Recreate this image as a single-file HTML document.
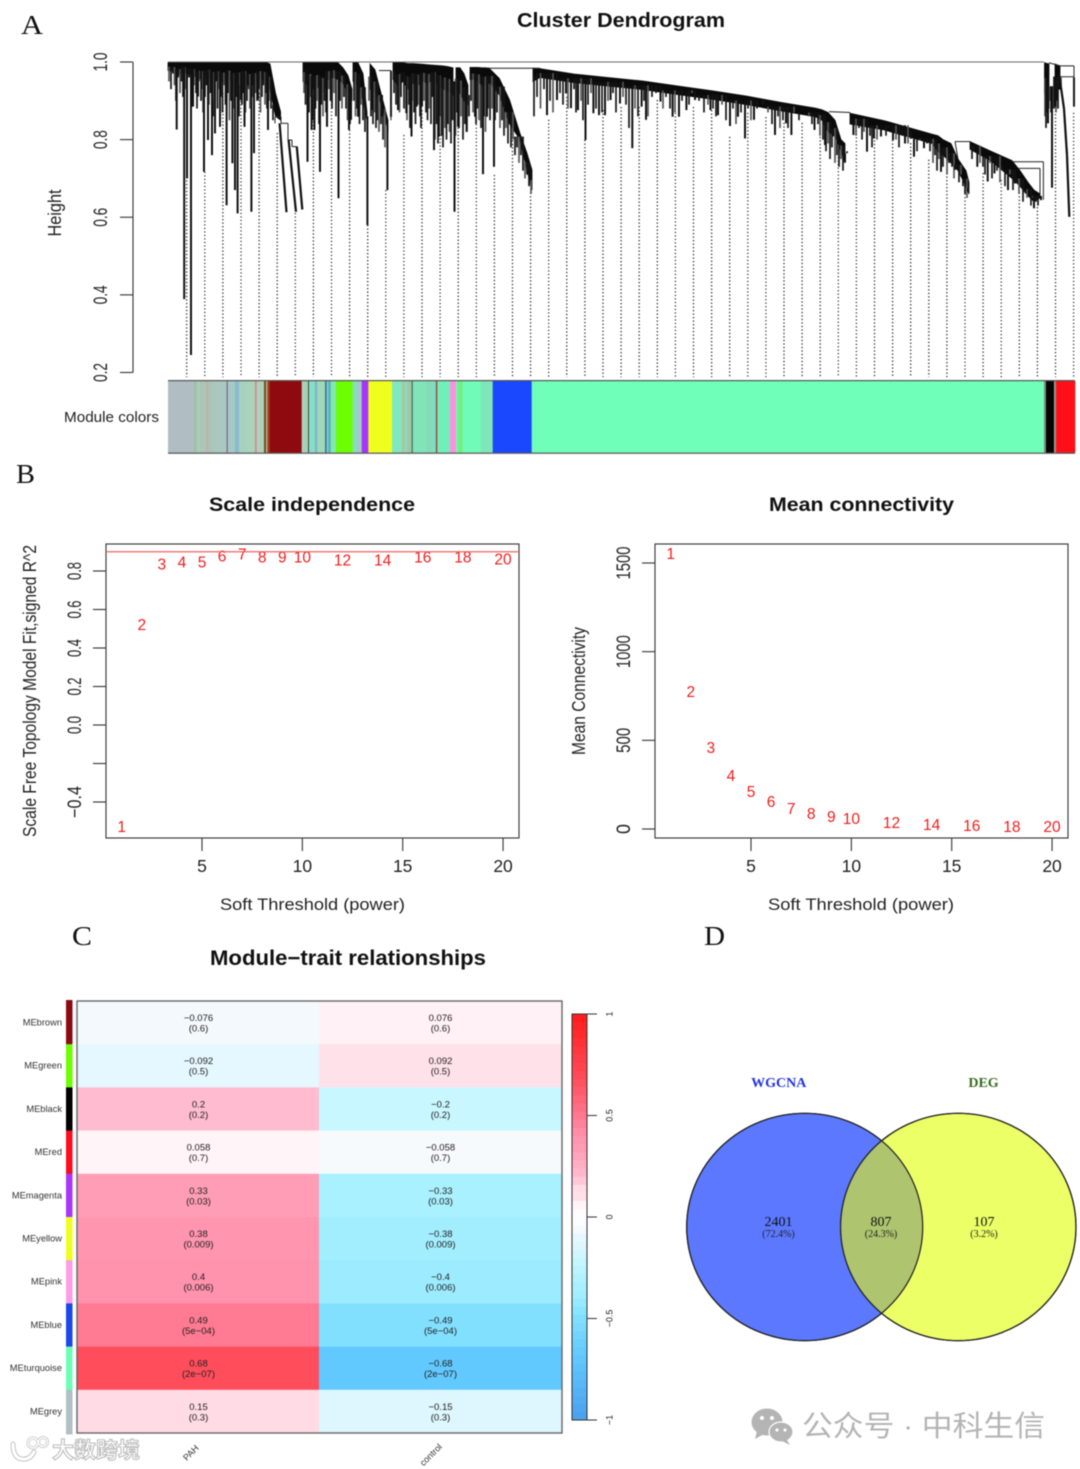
<!DOCTYPE html>
<html lang="en">
<head>
<meta charset="utf-8">
<title>WGCNA figure</title>
<style>
html,body{margin:0;padding:0;background:#fff;}
#figure{display:block;width:1080px;height:1469px;filter:blur(.5px);font-family:"Liberation Sans","Noto Sans CJK SC",sans-serif;}
.serif{font-family:"Liberation Serif","Noto Serif CJK SC",serif;}
</style>
</head>
<body>
<svg id="figure" xmlns="http://www.w3.org/2000/svg" width="1080" height="1469" viewBox="0 0 1080 1469">
  <rect x="0" y="0" width="1080" height="1469" fill="#fff"/>

  <g fill="#111" font-size="27" class="serif">
    <text x="21" y="34" textLength="22" lengthAdjust="spacingAndGlyphs">A</text>
    <text x="16" y="483" textLength="19" lengthAdjust="spacingAndGlyphs">B</text>
    <text x="72" y="945" textLength="20" lengthAdjust="spacingAndGlyphs">C</text>
    <text x="704" y="945" textLength="21" lengthAdjust="spacingAndGlyphs">D</text>
  </g>

  <g id="panel-a">
    <text x="517" y="27" font-size="20" font-weight="700" fill="#111" textLength="208" lengthAdjust="spacingAndGlyphs">Cluster Dendrogram</text>
    <text transform="rotate(-90 61 213)" x="61" y="213" text-anchor="middle" font-size="18" fill="#222" textLength="47" lengthAdjust="spacingAndGlyphs">Height</text>
    <text x="64" y="422" font-size="15" fill="#222" textLength="95" lengthAdjust="spacingAndGlyphs">Module colors</text>
    <g id="band"></g>
    <g id="guides"></g>
    <g id="dendro"></g>
    <g id="dendro-axis"></g>
  </g>

  <g id="panel-b1">
    <text x="209" y="511" font-size="19" font-weight="700" fill="#111" textLength="206" lengthAdjust="spacingAndGlyphs">Scale independence</text>
    <text x="220" y="910" font-size="17" fill="#222" textLength="185" lengthAdjust="spacingAndGlyphs">Soft Threshold (power)</text>
    <text transform="rotate(-90 36 691)" x="36" y="691" text-anchor="middle" font-size="18" fill="#222" textLength="292" lengthAdjust="spacingAndGlyphs">Scale Free Topology Model Fit,signed R^2</text>
  </g>

  <g id="panel-b2">
    <text x="769" y="511" font-size="19" font-weight="700" fill="#111" textLength="185" lengthAdjust="spacingAndGlyphs">Mean connectivity</text>
    <text x="768" y="910" font-size="17" fill="#222" textLength="186" lengthAdjust="spacingAndGlyphs">Soft Threshold (power)</text>
    <text transform="rotate(-90 585 691)" x="585" y="691" text-anchor="middle" font-size="18" fill="#222" textLength="128" lengthAdjust="spacingAndGlyphs">Mean Connectivity</text>
  </g>

  <g id="panel-c">
    <text x="210" y="965" font-size="21" font-weight="700" fill="#111" textLength="276" lengthAdjust="spacingAndGlyphs">Module−trait relationships</text>
    <g id="heat"></g>
    <g id="colorbar"></g>
  </g>

  <g id="panel-d">
    <defs>
      <clipPath id="venn-left-clip"><ellipse cx="804.7" cy="1227" rx="118" ry="113.7"/></clipPath>
    </defs>
    <ellipse cx="804.7" cy="1227" rx="118" ry="113.7" fill="#5b78ff" stroke="#222" stroke-width="1.2"/>
    <ellipse cx="958.3" cy="1227" rx="117.7" ry="113.7" fill="#ecff66" stroke="#222" stroke-width="1.2"/>
    <ellipse cx="958.3" cy="1227" rx="117.7" ry="113.7" fill="#aec46f" clip-path="url(#venn-left-clip)"/>
    <ellipse cx="804.7" cy="1227" rx="118" ry="113.7" fill="none" stroke="#222" stroke-width="1.2"/>
    <ellipse cx="958.3" cy="1227" rx="117.7" ry="113.7" fill="none" stroke="#222" stroke-width="1.2"/>
    <text x="778.7" y="1087" text-anchor="middle" font-size="14" font-weight="700" fill="#2233dd" class="serif">WGCNA</text>
    <text x="983.5" y="1087" text-anchor="middle" font-size="14" font-weight="700" fill="#3a6a20" class="serif">DEG</text>
    <g id="venn-text"></g>
  </g>

  <g>
    <g>
      <ellipse cx="767" cy="1422" rx="15.5" ry="13.5" fill="#b4b4b4"/>
      <path d="M757 1431 L755 1439 L764 1434 Z" fill="#b4b4b4"/>
      <ellipse cx="781" cy="1432" rx="12" ry="10" fill="#b4b4b4" stroke="#fff" stroke-width="1.2"/>
      <path d="M787 1440 L790 1445 L782 1441 Z" fill="#b4b4b4"/>
      <circle cx="762" cy="1418" r="2" fill="#fff"/><circle cx="772" cy="1418" r="2" fill="#fff"/>
      <circle cx="777" cy="1430" r="1.6" fill="#fff"/><circle cx="785" cy="1430" r="1.6" fill="#fff"/>
    </g>
    <text x="802" y="1436" font-size="29" fill="#b4b4b4" textLength="243" lengthAdjust="spacingAndGlyphs" style="font-family:'Liberation Sans','Noto Sans CJK SC',sans-serif">公众号 · 中科生信</text>
  </g>

  <g>
    <g fill="none" stroke-linecap="round">
      <path d="M13 1444 Q13 1458 22 1459 Q30 1460 34 1452" stroke="#c4c4c4" stroke-width="5"/>
      <path d="M13 1444 Q13 1458 22 1459 Q30 1460 34 1452" stroke="#fff" stroke-width="3"/>
      <circle cx="33" cy="1443" r="5" stroke="#c4c4c4" stroke-width="3"/>
      <circle cx="43" cy="1442" r="4.5" stroke="#c4c4c4" stroke-width="3"/>
      <circle cx="33" cy="1443" r="5" stroke="#fff" stroke-width="1.4"/>
      <circle cx="43" cy="1442" r="4.5" stroke="#fff" stroke-width="1.4"/>
    </g>
    <text x="52" y="1458" font-size="22" font-weight="700" fill="#fff" stroke="#bdbdbd" stroke-width="1.1" textLength="88" lengthAdjust="spacingAndGlyphs" style="font-family:'Liberation Sans','Noto Sans CJK SC',sans-serif">大数跨境</text>
  </g>
</svg>

<script>
/* ---------- Panel A data ---------- */
const heightTicks = [0.2, 0.4, 0.6, 0.8, 1.0];
const heightTickLabels = ['0.2', '0.4', '0.6', '0.8', '1.0'];

/* Heights at which each dotted leaf guide meets the tree, left to right. */
const guideTop = [.704,.717,.920,.936,.920,.817,.611,.910,.936,.825,.580,.670,.812,.876,.812,.876,.858,.709,.843,.663,
  .851,.910,.799,.876,.884,.884,.902,.869,.884,.876,.807,.869,.858,.843,.843,.825,.755,.833,.807,.799,.791,.748,.714,.670,.714,.696,.663,.626,.920,.869];

/* Solid parts of the tree in leaf-order units; null separates sections. */
const trunkLeaf = [0,5,10,15,20,25,30,35,40,45,50,55,60,65,70,75,80,85,90,95,97,null,
  97,102,107.5,112.6,null,
  135,140,145,150,155,160,165,170,175,180,184,null,
  185,190,195,199,null,
  202,207,212,216,220,null,
  225,230,235,240,245,250,255,260,265,270,275,280,285,null,
  288,292,296,300,null,
  302,306,310,314,318,321,null,
  321,331.3,341.6,352,359,364,null,
  365,372,406,440,475,510,544,579,613,647.5,654,660,667,673,677,null,
  682,716,764,770,775,783,790,798,801,null,
  802,823,844,852,860,866,872,null,
  876.5,881,null,
  887,892];
const trunkTop = [.998,.998,.998,.998,.998,.998,.998,.998,.998,.998,.998,.998,.998,.998,.998,.998,.998,.998,.998,.998,.998,null,
  1,.995,.92,.872,null,
  .998,.998,.998,.998,.998,.998,.998,.998,.985,.965,.93,null,
  .998,.998,.97,.87,null,
  .995,.98,.93,.89,.85,null,
  .998,.998,.998,.996,.996,.995,.994,.993,.992,.991,.990,.988,.985,null,
  .985,.985,.97,.94,null,
  .986,.986,.986,.985,.985,.984,null,
  .984,.958,.902,.816,.765,.722,null,
  .984,.983,.969,.96,.951,.938,.926,.912,.896,.881,.877,.87,.85,.80,.79,null,
  .868,.849,.814,.81,.80,.79,.75,.72,.69,null,
  .795,.77,.746,.72,.69,.67,.66,null,
  .998,.995,null,
  .995,.99];
const trunkBottom = [.978,.976,.965,.975,.968,.966,.958,.955,.962,.95,.955,.948,.958,.945,.948,.955,.94,.945,.955,.955,.95,null,
  .96,.93,.86,.85,null,
  .95,.94,.93,.935,.92,.955,.96,.955,.945,.92,.90,null,
  .95,.94,.90,.85,null,
  .93,.92,.90,.87,.82,null,
  .955,.94,.95,.93,.945,.94,.95,.945,.955,.94,.93,.925,.915,null,
  .93,.92,.90,.89,null,
  .955,.955,.95,.94,.94,.945,null,
  .95,.915,.84,.80,.72,.67,null,
  .95,.96,.947,.938,.929,.916,.904,.89,.874,.859,.85,.82,.81,.77,.74,null,
  .84,.825,.79,.77,.76,.74,.72,.68,.66,null,
  .775,.745,.70,.68,.655,.64,.65,null,
  .92,.88,null,
  .93,.93];

/* Individual hanging branches: leaf position and the height of the tip. */
const branchLeaf = [8.7,16.2,19,23,25,30,36,40,44,47,52,58.6,64.4,67,69.6,73,76.5,83.4,86,90,100,
  139.5,143.6,146.4,152,159,170.5,181,183,190,199.4,204,214,219.4,223,230,238.3,243.5,248.7,254,266,271,286.5,290,298.6,307,315,319,326,
  379,389,398,403,410,417.5,425.4,431,437,442.6,452,464.3,473.6,478,492.5,504.6,511,518.4,527,542.5,550,562,570,577,586,607,618,623.4,646.5,
  657,665,677,685.4,699,706,713,725,737,746,756,773,787,800,809.3,819.7,826.5,840,847,857.5,866,873,880,884,887.5,906];
const branchTip = [.826,.389,.700,.245,.885,.911,.717,.799,.760,.816,.833,.631,.739,.670,.610,.902,.833,.614,.765,.902,.825,
  .743,.825,.825,.717,.833,.649,.825,.851,.859,.580,.876,.859,.670,.859,.876,.868,.808,.885,.885,.773,.808,.614,.833,.820,.859,.711,.859,.730,
  .863,.902,.919,.881,.876,.799,.868,.863,.863,.902,.893,.778,.885,.851,.898,.859,.859,.876,.902,.876,.863,.835,.859,.803,.851,.812,.842,.812,.825,
  .786,.808,.741,.812,.769,.803,.808,.799,.790,.756,.778,.717,.722,.666,.730,.692,.713,.670,.687,.662,.623,.644,.842,.676,.885,.885];

/* Short twigs that give the tree its ragged underside. */
const twigLeaf = [1,3,5,6.5,8,10,12,13.5,15,17,
  21,24,26,28,29,31,33,34,35,37,
  38.5,41,42.5,45,46,48,49.5,51,53,54.5,
  56,57.5,60,61.5,63,65,66,68,71,72,
  74,75,77.5,79,81,82,84,85,87.5,89,
  91,92.5,94,95.5,97,98,99,101,103,105,
  136,137.5,141,142.5,144.5,147.5,149,151,153.5,155,
  156.5,158,161,162.5,164,166,168,172,174,176,
  178,179.5,182,186,187.5,189,191.5,193,195,197,
  201,203,205,206.5,208,209.5,211,213,215,217,
  226,228,231.5,233,236,239,241,242,244,246,
  247.5,250,252,253,256,258,259.5,261,263,264.5,
  267,268.5,270,272,273.5,275,277,278.5,280,281.5,
  283,284.5,287.5,289,291,293,295,297,299,301,
  303,305,308,309.5,311,313,316,317.5,320,322,
  324,327,329,332,334,336,338,340,343,345,
  347,349,351,353,355,357,359,361,363,366,
  369,372.5,376,382,385,392,395,400,406,408,
  413,415,420,423,428,434,440,445,448,455,
  458,461,467,470,476,480,484,488,495,498,
  502,507,514,521,524,531,536,540,545,548,
  554,558,565,568,573,580,583,589,595,600,
  604,610,612,615,620,626,631,636,641,644,
  650,652,655,658,660,662,664,667,669,671,
  673,675,679,688,691,694,696,702,704,709,
  718,721,728,731,734,740,743,749,752,759,
  762,765,767,769,771,775,777,779,781,784,
  786,789,791,793,795,797,799,804,806,812,
  815,817,822,824,829,832,834,837,842,845,
  849,851,853,855,859,861,863,865,868,870,
  877,878,879,882,883,886,888,889,890,893];
const twigTip = [.95,.93,.97,.94,.90,.96,.92,.95,.91,.93,
  .96,.89,.94,.92,.88,.95,.90,.93,.87,.91,
  .94,.89,.92,.86,.90,.95,.88,.93,.91,.87,
  .94,.89,.92,.85,.90,.93,.88,.91,.86,.94,
  .89,.92,.87,.90,.93,.88,.91,.94,.92,.90,
  .93,.87,.91,.94,.89,.92,.88,.90,.88,.85,
  .92,.89,.87,.91,.85,.88,.90,.84,.89,.86,
  .90,.87,.93,.90,.88,.92,.86,.90,.88,.91,
  .88,.85,.84,.90,.86,.88,.84,.89,.85,.82,
  .90,.86,.84,.87,.83,.85,.82,.84,.80,.78,
  .92,.89,.87,.91,.88,.85,.89,.83,.90,.87,
  .84,.89,.86,.83,.90,.87,.85,.88,.84,.91,
  .80,.84,.79,.86,.81,.78,.83,.80,.84,.82,
  .79,.85,.81,.87,.83,.86,.80,.84,.82,.86,
  .90,.87,.84,.88,.85,.83,.86,.82,.88,.85,
  .88,.85,.87,.83,.85,.81,.83,.79,.78,.80,
  .76,.78,.74,.76,.72,.70,.71,.68,.66,.86,
  .91,.88,.93,.90,.87,.92,.89,.88,.93,.87,
  .90,.85,.89,.92,.88,.87,.90,.92,.87,.91,
  .89,.83,.88,.86,.90,.86,.91,.92,.88,.91,
  .88,.87,.90,.89,.92,.90,.87,.89,.88,.86,
  .89,.85,.88,.84,.87,.88,.85,.88,.89,.87,
  .84,.86,.83,.85,.83,.87,.85,.87,.86,.84,
  .84,.81,.80,.77,.79,.75,.78,.74,.76,.73,
  .75,.72,.77,.81,.83,.80,.82,.81,.78,.80,
  .81,.83,.80,.78,.81,.79,.82,.77,.80,.79,
  .77,.74,.76,.72,.75,.73,.76,.71,.74,.73,
  .70,.73,.69,.71,.68,.66,.65,.75,.77,.74,
  .73,.71,.74,.70,.72,.69,.73,.68,.71,.67,
  .69,.66,.68,.64,.65,.67,.63,.65,.64,.63,
  .86,.83,.87,.90,.87,.88,.87,.90,.88,.94];

/* Thin connector lines between sub-clusters. */
const linkLeafA = [0,107,113,107,113,120,120,124,124,211,223,321,661,682,787,787,844,875.4,850,872,892,906,892,881];
const linkHeightA = [1,.859,.859,.859,.842,.842,.799,.799,.782,.978,.978,.984,.872,.87,.795,.795,.743,.743,.726,.726,.99,.99,.962,.998];
const linkLeafB = [876,113,113,107,120,120,124,124,129,223,223,372,682,682,802,790,875.4,875.4,872,872,906,906,906,892];
const linkHeightB = [1,.859,.842,.842,.842,.799,.799,.782,.782,.978,.85,.984,.87,.84,.795,.75,.743,.645,.726,.66,.99,.885,.962,.99];

/* Heavy slanted tails of the late-merging clusters. */
const tailLeafA = [111.6,120.6,128.8,891,896,899];
const tailHeightA = [.842,.799,.782,.97,.88,.76];
const tailLeafB = [118.5,128,134.3,896,899,901.3];
const tailHeightB = [.613,.614,.62,.88,.76,.601];

/* Module colour band: each run ends at the given leaf. */
const bandEnd = [26,28,29.3,32,38,40.7,43.7,47,50,58.7,59.7,62,67,71,78.7,87,88.7,92,96,98,99.3,101.7,133.7,135.3,140,141,147,149.3,157,158.7,160.3,162.7,168,184.7,188.7,193.7,200.3,224,233.7,237,239.3,243.7,244.7,258.7,262.7,267,268,269.3,282,288,289.7,294.7,312.7,324.7,363.7,876,878,886,887.5,888.5,907];
const bandColor = ['#b0bdc3','#9cc0a8','#aebfc0','#a8d0b0','#aec4b8','#b8b8a8','#aec0c0','#a8c8b8','#b0c4c4','#a8c8c0','#6a5a7a','#b0c4cc','#a0ccc4','#8cb8d0','#a8d0c0','#a8d4bc','#e8808c','#a8d4c4','#b0d0b8','#7a4a20','#b0c0a0','#a0401c','#8f0a0e','#a8d8b8','#a8d0b8','#3a4a30','#88dcc8','#7ab8c8','#a0d8b8','#3a78a0','#88d0c8','#5ab0b8','#80e8b0','#6cff00','#88dcc0','#a0ccc4','#a833ff','#eeff1e','#80e8c0','#a8c8a0','#88dcc0','#9ec8a8','#3c5a4c','#80e4b8','#88d8b8','#7ae0c0','#88c8c0','#a83c30','#70f0b8','#ff90e0','#70f8b8','#70f080','#70fcb8','#80e6b8','#1a48ff','#6fffb8','#808880','#050505','#a0a0a0','#e04040','#ff1018'];

/* ---------- Panel B data ---------- */
const softPowers = [1,2,3,4,5,6,7,8,9,10,12,14,16,18,20];
const scaleFitValues = [-0.53,0.52,0.835,0.845,0.845,0.875,0.885,0.87,0.87,0.87,0.855,0.855,0.87,0.87,0.86];
const meanConnectivityValues = [1550,772,457,299,209,152,113,85,68,56,34,23,17,11,11];
const powerTicks = [5,10,15,20];
const scaleTicks = [-0.4,-0.2,0,0.2,0.4,0.6,0.8];
const scaleTickLabels = ['−0.4','','0.0','0.2','0.4','0.6','0.8'];
const connectivityTicks = [0,500,1000,1500];
const connectivityTickLabels = ['0','500','1000','1500'];
const scaleCutoff = 0.9;

/* ---------- Panel C data ---------- */
const moduleNames = ['MEbrown','MEgreen','MEblack','MEred','MEmagenta','MEyellow','MEpink','MEblue','MEturquoise','MEgrey'];
const moduleColors = ['#8b0a12','#6cff00','#000000','#ff0a1e','#a835ff','#eeff1e','#ff9ce6','#1a48ee','#6cffb6','#b0c0c4'];
const traitNames = ['PAH','control'];
const pahCorrelation = [-0.076,-0.092,0.2,0.058,0.33,0.38,0.4,0.49,0.68,0.15];
const controlCorrelation = [0.076,0.092,-0.2,-0.058,-0.33,-0.38,-0.4,-0.49,-0.68,-0.15];
const pahPValues = ['0.6','0.5','0.2','0.7','0.03','0.009','0.006','5e−04','2e−07','0.3'];
const controlPValues = ['0.6','0.5','0.2','0.7','0.03','0.009','0.006','5e−04','2e−07','0.3'];
const rampValues = [-1,-0.68,-0.49,-0.38,-0.33,-0.2,-0.15,-0.092,-0.076,0,0.076,0.092,0.15,0.2,0.33,0.4,0.49,0.68,1];
const rampColors = ['#4a9fee','#62c9ff','#82e0ff','#a2eeff','#aaf1ff','#c8f7ff','#def6fd','#e6f8ff','#f3f9fd','#ffffff','#fff1f5','#ffe1ea','#ffdbe5','#ffbcd0','#ff9db6','#ff92ac','#ff7a92','#ff4d5b','#ff1a1a'];
const colorbarTicks = [-1,-0.5,0,0.5,1];
const colorbarTickLabels = ['−1','−0.5','0','0.5','1'];

/* ---------- Panel D data ---------- */
const vennCounts = [2401,807,107];
const vennPercents = ['72.4','24.3','3.2'];

/* ---------- Helpers ---------- */
const SVGNS = 'http://www.w3.org/2000/svg';
const $ = id => document.getElementById(id);
function mk(parent, tag, attrs) {
  const el = document.createElementNS(SVGNS, tag);
  for (const k in attrs) el.setAttribute(k, attrs[k]);
  parent.appendChild(el);
  return el;
}
function label(parent, x, y, str, size, fill, anchor, rot, len) {
  const a = {x: x, y: y, 'font-size': size, fill: fill, 'text-anchor': anchor || 'middle'};
  if (rot) a.transform = 'rotate(' + rot + ' ' + x + ' ' + y + ')';
  if (len) { a.textLength = len; a.lengthAdjust = 'spacingAndGlyphs'; }
  const el = mk(parent, 'text', a);
  el.textContent = str;
  return el;
}

/* ---------- Panel A drawing ---------- */
const leafX = leaf => 168 + leaf;
const heightY = h => 62 + (1 - h) * 388.1;

(function drawDendrogram() {
  const band = $('band');
  let start = 0;
  bandEnd.forEach((end, i) => {
    const r = mk(band, 'rect', {x: leafX(start), y: 381, width: end - start + 0.3, height: 72, fill: bandColor[i]});
    
    
    start = end;
  });
  const edgeTop = mk(band, 'rect', {x: 168, y: 380, width: 907, height: 1.2, fill: '#555'});
  
  
  const edgeBottom = mk(band, 'rect', {x: 168, y: 452.6, width: 907, height: 1.2, fill: '#555'});
  
  

  const guides = $('guides');
  guideTop.forEach((h, i) => {
    const x = leafX(18.7 + i * 18.1);
    const g = mk(guides, 'line', {x1: x, x2: x, y1: heightY(h), y2: heightY(0.188), stroke: '#222', 'stroke-width': 1.3, 'stroke-dasharray': '1.2 2.3'});
    
    
  });

  const tree = $('dendro');
  let runs = [], run = [];
  trunkLeaf.forEach((leaf, i) => {
    if (leaf === null) { runs.push(run); run = []; }
    else run.push(i);
  });
  runs.push(run);
  runs.forEach(idx => {
    const up = idx.map(i => leafX(trunkLeaf[i]) + ',' + heightY(trunkTop[i]));
    const dn = idx.slice().reverse().map(i => leafX(trunkLeaf[i]) + ',' + heightY(trunkBottom[i]));
    const p = mk(tree, 'polygon', {points: up.concat(dn).join(' '), fill: '#0a0a0a', stroke: '#0a0a0a', 'stroke-width': 0.8});
    
    
  });

  function attachHeight(leaf) {
    let best = -1, d = 1e9;
    trunkLeaf.forEach((l, i) => {
      if (l !== null && Math.abs(l - leaf) < d) { d = Math.abs(l - leaf); best = i; }
    });
    return (trunkTop[best] + trunkBottom[best]) / 2;
  }
  twigLeaf.forEach((leaf, i) => {
    const t = mk(tree, 'line', {x1: leafX(leaf), x2: leafX(leaf), y1: heightY(attachHeight(leaf)), y2: heightY(twigTip[i]), stroke: i % 3 === 0 ? '#555' : '#151515', 'stroke-width': 1.7});
    
    
  });
  branchLeaf.forEach((leaf, i) => {
    const b = mk(tree, 'line', {x1: leafX(leaf), x2: leafX(leaf), y1: heightY(attachHeight(leaf)), y2: heightY(branchTip[i]), stroke: '#111', 'stroke-width': 2});
    
    
  });
  linkLeafA.forEach((leaf, i) => {
    const l = mk(tree, 'line', {x1: leafX(leaf), x2: leafX(linkLeafB[i]), y1: heightY(linkHeightA[i]), y2: heightY(linkHeightB[i]), stroke: i === 0 ? '#666' : '#222', 'stroke-width': 1});
    
    
  });
  tailLeafA.forEach((leaf, i) => {
    const t = mk(tree, 'line', {x1: leafX(leaf), x2: leafX(tailLeafB[i]), y1: heightY(tailHeightA[i]), y2: heightY(tailHeightB[i]), stroke: '#111', 'stroke-width': 2.2});
    
    
  });

  const axis = $('dendro-axis');
  const spine = mk(axis, 'line', {x1: 133, x2: 133, y1: heightY(1), y2: heightY(0.2), stroke: '#333', 'stroke-width': 1.1});
  
  
  heightTicks.forEach((v, i) => {
    const y = heightY(v);
    const t = mk(axis, 'line', {x1: 120, x2: 133, y1: y, y2: y, stroke: '#333', 'stroke-width': 1.1});
    
    
    const s = label(axis, 107, y, heightTickLabels[i], 19.5, '#222', 'middle', -90, 19);
    
    
  });
})();

/* ---------- Panel B drawing ---------- */
function drawPowerPanel(host, left, yScale, series, yTicks, yLabels, yLabelX, labelLens) {
  const right = left + 413, top = 544, bottom = 838;
  const x = p => left + 96 + (p - 5) * 20.07;
  const box = mk(host, 'rect', {x: left, y: top, width: 413, height: bottom - top, fill: 'none', stroke: '#333', 'stroke-width': 1.1});
  
  
  powerTicks.forEach(p => {
    const t = mk(host, 'line', {x1: x(p), x2: x(p), y1: bottom, y2: bottom + 13, stroke: '#333', 'stroke-width': 1.1});
    
    
    const s = label(host, x(p), 872, String(p), 17.5, '#222');
    
    
  });
  yTicks.forEach((v, i) => {
    const y = yScale(v);
    const t = mk(host, 'line', {x1: left - 13, x2: left, y1: y, y2: y, stroke: '#333', 'stroke-width': 1.1});
    
    
    if (yLabels[i]) {
      const s = label(host, yLabelX, y, yLabels[i], 19, '#222', 'middle', -90, labelLens[i]);
      
      
    }
  });
  softPowers.forEach((p, i) => {
    const s = label(host, x(p), yScale(series[i]) + 5, String(p), 15.5, '#f01c1c');
    
    
  });
  return {x: x, right: right};
}
const scaleY = v => 725 - v * 192.5;
const connY = v => 829 - v * 0.17733;
const panelScale = drawPowerPanel($('panel-b1'), 106, scaleY, scaleFitValues, scaleTicks, scaleTickLabels, 81, [32,0,18,18,18,18,18]);
const cutoff = mk($('panel-b1'), 'line', {x1: 107, x2: panelScale.right - 1, y1: scaleY(scaleCutoff), y2: scaleY(scaleCutoff), stroke: '#f06060', 'stroke-width': 1.3});


drawPowerPanel($('panel-b2'), 655, connY, meanConnectivityValues, connectivityTicks, connectivityTickLabels, 630, [10,25,33,33]);

/* ---------- Panel C drawing ---------- */
function hexToRgb(h) { return [1,3,5].map(i => parseInt(h.substr(i, 2), 16)); }
function rampColor(v) {
  const c = Math.max(-1, Math.min(1, v));
  let i = 0;
  while (i < rampValues.length - 2 && c > rampValues[i + 1]) i++;
  const t = (c - rampValues[i]) / (rampValues[i + 1] - rampValues[i]);
  const a = hexToRgb(rampColors[i]), b = hexToRgb(rampColors[i + 1]);
  return 'rgb(' + a.map((q, k) => Math.round(q + (b[k] - q) * t)).join(',') + ')';
}
function printValue(v) { return String(v).replace('-', '−'); }

(function drawHeatmap() {
  const heat = $('heat');
  const rowH = 43.2, top = 1001, colX = [77, 319], colW = [242, 243];
  const columns = [pahCorrelation, controlCorrelation];
  const pColumns = [pahPValues, controlPValues];
  moduleNames.forEach((name, r) => {
    const y = top + r * rowH;
    const sw = mk(heat, 'rect', {x: 66, y: r === 0 ? 1000 : y, width: 6.5, height: rowH + 0.4 + (r === 0 || r === 9 ? 1 : 0), fill: moduleColors[r]});
    
    
    const n = label(heat, 62, y + 24.5, name, 9.3, '#333', 'end');
    
    
    columns.forEach((col, c) => {
      const cell = mk(heat, 'rect', {x: colX[c], y: y, width: colW[c] + 0.3, height: rowH + 0.3, fill: rampColor(col[r])});
      
      
      const cx = colX[c] + 121.5;
      const val = label(heat, cx, y + 20, printValue(col[r]), 9.5, '#222');
      
      
      const pv = label(heat, cx, y + 30.5, '(' + pColumns[c][r] + ')', 9.5, '#222');
      
      
    });
  });
  const frame = mk(heat, 'rect', {x: 77, y: 1001, width: 485, height: 432, fill: 'none', stroke: '#666', 'stroke-width': 1.4});
  
  
  const labelAt = [[193, 1455], [433, 1457]];
  traitNames.forEach((t, i) => {
    const s = label(heat, labelAt[i][0], labelAt[i][1], t, 9, '#333', 'middle', -45);
    
    
  });

  const bar = $('colorbar');
  const barY = v => 1217 - v * 203;
  const steps = 50;
  for (let i = 0; i < steps; i++) {
    const lo = -1 + 2 * i / steps, hi = lo + 2 / steps;
    const s = mk(bar, 'rect', {x: 572, y: barY(hi), width: 15, height: barY(lo) - barY(hi) + 0.3, fill: rampColor((lo + hi) / 2)});
    
    
  }
  const bf = mk(bar, 'rect', {x: 572, y: barY(1), width: 15, height: barY(-1) - barY(1), fill: 'none', stroke: '#333', 'stroke-width': 1});
  
  
  colorbarTicks.forEach((v, i) => {
    const t = mk(bar, 'line', {x1: 587, x2: 597, y1: barY(v), y2: barY(v), stroke: '#333', 'stroke-width': 1});
    
    
    const s = label(bar, 612.5, barY(v), colorbarTickLabels[i], 9, '#222', 'middle', -90);
    
    
  });
})();

/* ---------- Panel D drawing ---------- */
(function drawVennText() {
  const host = $('venn-text');
  const centers = [778.5, 881, 984];
  vennCounts.forEach((n, i) => {
    const a = label(host, centers[i], 1226, String(n), 14, '#111');
    a.setAttribute('class', 'serif');
    
    
    const b = label(host, centers[i], 1237, '(' + vennPercents[i] + '%)', 10, '#222');
    b.setAttribute('class', 'serif');
    
    
  });
})();
</script>
</body>
</html>
